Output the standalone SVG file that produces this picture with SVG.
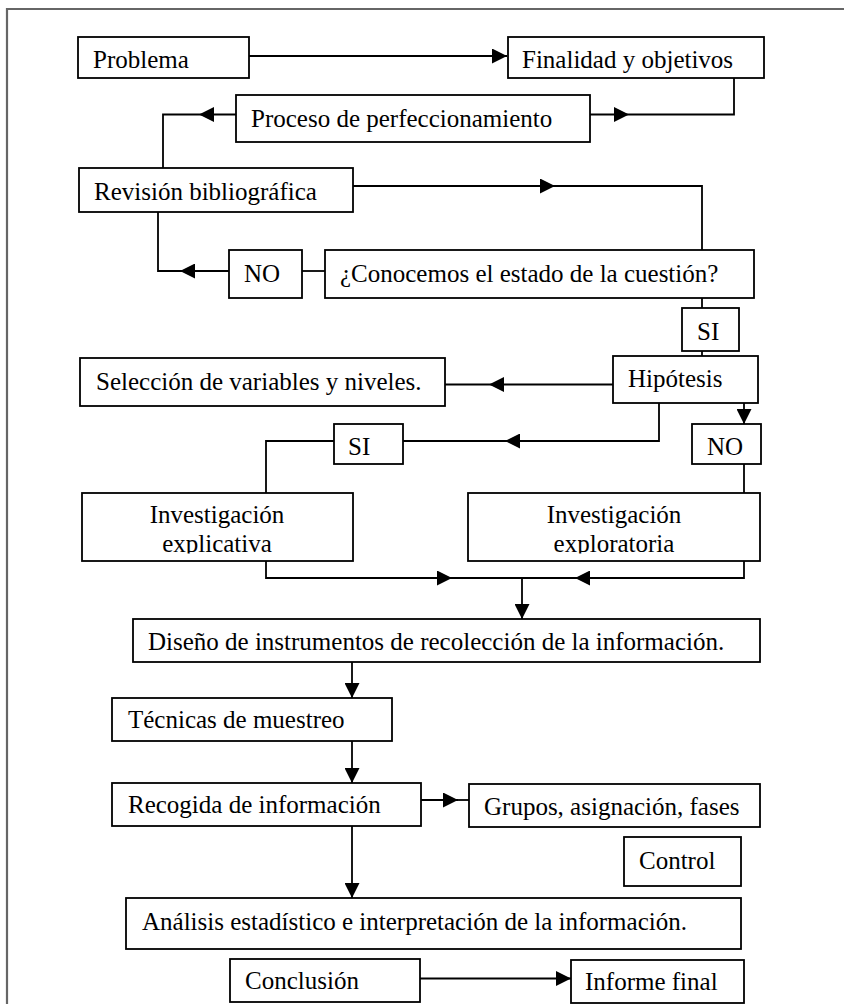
<svg xmlns="http://www.w3.org/2000/svg" width="844" height="1004" viewBox="0 0 844 1004">
<style>
.box{fill:#fff;stroke:#000;stroke-width:1.8}
.t{font-family:"Liberation Serif","Times New Roman",serif;font-size:25px;fill:#000}
.c{text-anchor:middle}
.ln{fill:none;stroke:#000;stroke-width:1.8}
.frame{fill:none;stroke:#666;stroke-width:2.2}
</style>
<defs>
<marker id="ah" markerUnits="userSpaceOnUse" markerWidth="15" markerHeight="15" refX="15" refY="7.5" orient="auto">
<path d="M0,0 L15,7.5 L0,15 z" fill="#000"/>
</marker>
<clipPath id="clipInv"><rect x="0" y="490" width="844" height="63.5"/></clipPath>
</defs>
<rect width="844" height="1004" fill="#fff"/>
<path class="frame" d="M7,1004 V9 H844"/>
<g id="connectors">
<path class="ln" d="M249,56 H507" marker-end="url(#ah)"/>
<path class="ln" d="M590,114.5 H629" marker-end="url(#ah)"/>
<path class="ln" d="M629,114.5 H734 V78"/>
<path class="ln" d="M236,114.5 H199" marker-end="url(#ah)"/>
<path class="ln" d="M199,114.5 H163 V168"/>
<path class="ln" d="M353,186 H555" marker-end="url(#ah)"/>
<path class="ln" d="M555,186 H702 V250"/>
<path class="ln" d="M229,271 H180" marker-end="url(#ah)"/>
<path class="ln" d="M180,271 H158 V212"/>
<path class="ln" d="M302,271 H325"/>
<path class="ln" d="M702,298 V308"/>
<path class="ln" d="M702,351 V356"/>
<path class="ln" d="M613,384.5 H489" marker-end="url(#ah)"/>
<path class="ln" d="M489,384.5 H445"/>
<path class="ln" d="M659,403 V441 H505" marker-end="url(#ah)"/>
<path class="ln" d="M505,441 H403"/>
<path class="ln" d="M334,441 H266 V493"/>
<path class="ln" d="M744,403 V424" marker-end="url(#ah)"/>
<path class="ln" d="M744,464 V493"/>
<path class="ln" d="M266,561 V578 H452" marker-end="url(#ah)"/>
<path class="ln" d="M452,578 H575"/>
<path class="ln" d="M744,561 V578 H575" marker-end="url(#ah)"/>
<path class="ln" d="M522,578 V619" marker-end="url(#ah)"/>
<path class="ln" d="M352,662 V698" marker-end="url(#ah)"/>
<path class="ln" d="M352,741 V783" marker-end="url(#ah)"/>
<path class="ln" d="M421,800 H458" marker-end="url(#ah)"/>
<path class="ln" d="M458,800 H469"/>
<path class="ln" d="M352,826 V898" marker-end="url(#ah)"/>
<path class="ln" d="M420,978.5 H571" marker-end="url(#ah)"/>
</g>
<g id="problema"><rect class="box" x="78" y="37" width="171" height="41"/><text class="t" x="93" y="68">Problema</text></g>
<g id="finalidad"><rect class="box" x="508" y="37" width="256" height="41"/><text class="t" x="522" y="68">Finalidad y objetivos</text></g>
<g id="proceso"><rect class="box" x="236" y="95" width="354" height="47"/><text class="t" x="251" y="127">Proceso de perfeccionamiento</text></g>
<g id="revision"><rect class="box" x="79" y="168" width="274" height="44"/><text class="t" x="94" y="200">Revisión bibliográfica</text></g>
<g id="no1"><rect class="box" x="229" y="250" width="73" height="48"/><text class="t" x="244" y="282">NO</text></g>
<g id="conocemos"><rect class="box" x="325" y="250" width="429" height="48"/><text class="t" x="340" y="282">¿Conocemos el estado de la cuestión?</text></g>
<g id="si1"><rect class="box" x="682" y="308" width="57" height="43"/><text class="t" x="697" y="340">SI</text></g>
<g id="hipotesis"><rect class="box" x="613" y="356" width="145" height="47"/><text class="t" x="628" y="387">Hipótesis</text></g>
<g id="seleccion"><rect class="box" x="80" y="358" width="365" height="48"/><text class="t" x="96" y="390">Selección de variables y niveles.</text></g>
<g id="si2"><rect class="box" x="334" y="424" width="69" height="40"/><text class="t" x="348" y="455">SI</text></g>
<g id="no2"><rect class="box" x="692" y="424" width="69" height="40"/><text class="t" x="707" y="455">NO</text></g>
<g id="explicativa"><rect class="box" x="82" y="493" width="271" height="68"/><g clip-path="url(#clipInv)"><text class="t c" x="217" y="523">Investigación</text><text class="t c" x="217" y="552">explicativa</text></g></g>
<g id="exploratoria"><rect class="box" x="468" y="493" width="292" height="68"/><g clip-path="url(#clipInv)"><text class="t c" x="614" y="523">Investigación</text><text class="t c" x="614" y="552">exploratoria</text></g></g>
<g id="diseno"><rect class="box" x="133" y="619" width="627" height="43"/><text class="t" x="148" y="650">Diseño de instrumentos de recolección de la información.</text></g>
<g id="tecnicas"><rect class="box" x="112" y="698" width="280" height="43"/><text class="t" x="128" y="728">Técnicas de muestreo</text></g>
<g id="recogida"><rect class="box" x="112" y="783" width="309" height="43"/><text class="t" x="128" y="813">Recogida de información</text></g>
<g id="grupos"><rect class="box" x="469" y="784" width="291" height="43"/><text class="t" x="484" y="815">Grupos, asignación, fases</text></g>
<g id="control"><rect class="box" x="624" y="837" width="117" height="49"/><text class="t" x="639" y="869">Control</text></g>
<g id="analisis"><rect class="box" x="126" y="898" width="615" height="51"/><text class="t" x="142" y="930">Análisis estadístico e interpretación de la información.</text></g>
<g id="conclusion"><rect class="box" x="230" y="959" width="190" height="43"/><text class="t" x="245" y="989">Conclusión</text></g>
<g id="informe"><rect class="box" x="571" y="960" width="173" height="43"/><text class="t" x="585" y="990">Informe final</text></g>
</svg>
